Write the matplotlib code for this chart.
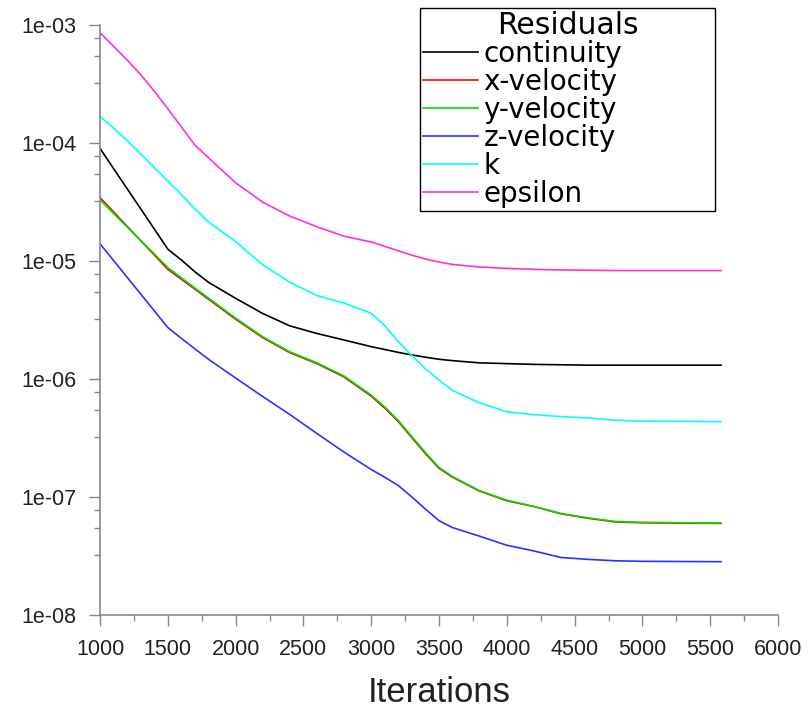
import numpy as np
import matplotlib
matplotlib.use("Agg")
import matplotlib.pyplot as plt
from matplotlib.ticker import FixedLocator, FuncFormatter

iterations = [1000, 1100, 1200, 1300, 1400, 1500, 1600, 1700, 1800, 2000,
              2200, 2400, 2600, 2800, 3000, 3100, 3200, 3300, 3400, 3500,
              3600, 3800, 4000, 4200, 4400, 4600, 4800, 5000, 5300, 5580]

continuity = [9.0e-5, 6.07e-5, 4.1e-5, 2.77e-5, 1.87e-5, 1.26e-5, 1.02e-5, 8.1e-6, 6.6e-6, 4.83e-6,
              3.59e-6, 2.82e-6, 2.43e-6, 2.14e-6, 1.88e-6, 1.78e-6, 1.68e-6, 1.6e-6, 1.53e-6, 1.47e-6,
              1.43e-6, 1.37e-6, 1.35e-6, 1.33e-6, 1.32e-6, 1.31e-6, 1.31e-6, 1.31e-6, 1.31e-6, 1.31e-6]

x_velocity = [3.45e-5, 2.61e-5, 1.97e-5, 1.49e-5, 1.125e-5, 8.5e-6, 7.0e-6, 5.77e-6, 4.74e-6, 3.21e-6,
              2.24e-6, 1.67e-6, 1.35e-6, 1.04e-6, 7.15e-7, 5.66e-7, 4.35e-7, 3.18e-7, 2.33e-7, 1.75e-7,
              1.47e-7, 1.12e-7, 9.3e-8, 8.3e-8, 7.2e-8, 6.6e-8, 6.14e-8, 6.05e-8, 6.0e-8, 5.98e-8]

y_velocity = [3.3e-5, 2.53e-5, 1.94e-5, 1.49e-5, 1.15e-5, 8.8e-6, 7.2e-6, 5.9e-6, 4.85e-6, 3.28e-6,
              2.28e-6, 1.70e-6, 1.37e-6, 1.06e-6, 7.3e-7, 5.8e-7, 4.45e-7, 3.25e-7, 2.38e-7, 1.78e-7,
              1.49e-7, 1.13e-7, 9.4e-8, 8.3e-8, 7.25e-8, 6.65e-8, 6.2e-8, 6.1e-8, 6.05e-8, 6.02e-8]

z_velocity = [1.4e-5, 1.01e-5, 7.28e-6, 5.25e-6, 3.79e-6, 2.73e-6, 2.21e-6, 1.8e-6, 1.47e-6, 1.02e-6,
              7.1e-7, 5.0e-7, 3.45e-7, 2.4e-7, 1.71e-7, 1.47e-7, 1.25e-7, 1.0e-7, 7.9e-8, 6.3e-8,
              5.5e-8, 4.65e-8, 3.9e-8, 3.49e-8, 3.07e-8, 2.96e-8, 2.88e-8, 2.85e-8, 2.84e-8, 2.83e-8]

k = [1.68e-4, 1.34e-4, 1.05e-4, 8.07e-5, 6.19e-5, 4.75e-5, 3.65e-5, 2.77e-5, 2.14e-5, 1.46e-5,
     9.3e-6, 6.6e-6, 5.1e-6, 4.4e-6, 3.6e-6, 2.83e-6, 2.07e-6, 1.58e-6, 1.22e-6, 9.8e-7,
     8.0e-7, 6.27e-7, 5.27e-7, 4.98e-7, 4.8e-7, 4.68e-7, 4.47e-7, 4.4e-7, 4.37e-7, 4.35e-7]

epsilon = [8.6e-4, 6.6e-4, 5.05e-4, 3.8e-4, 2.75e-4, 1.95e-4, 1.37e-4, 9.6e-5, 7.5e-5, 4.6e-5,
           3.15e-5, 2.4e-5, 1.95e-5, 1.62e-5, 1.45e-5, 1.33e-5, 1.22e-5, 1.12e-5, 1.04e-5, 9.8e-6,
           9.35e-6, 8.9e-6, 8.65e-6, 8.5e-6, 8.4e-6, 8.35e-6, 8.3e-6, 8.3e-6, 8.3e-6, 8.3e-6]

labels = ["continuity", "x-velocity", "y-velocity", "z-velocity", "k", "epsilon"]
series = [continuity, x_velocity, y_velocity, z_velocity, k, epsilon]
colors = ["black", "#ff0000", "#00dd00", "#3030ff", "#00ffff", "#ff33cc"]

fig = plt.figure(figsize=(8.09, 7.08), dpi=100)
ax = fig.add_axes([100 / 809, 93 / 708, 678 / 809, 590 / 708])

for vals, lab, col in zip(series, labels, colors):
    ax.plot(iterations, vals, color=col, lw=1.2, label=lab)

ax.set_yscale("log")
ax.set_xlim(1000, 6000)
ax.set_ylim(1e-8, 1e-3)

# major / minor ticks
ax.xaxis.set_major_locator(FixedLocator(np.arange(1000, 6001, 500)))
ax.xaxis.set_minor_locator(FixedLocator(np.arange(1250, 6000, 500)))
ax.yaxis.set_major_locator(FixedLocator([1e-8, 1e-7, 1e-6, 1e-5, 1e-4, 1e-3]))
minor_frac = [0.113, 0.266, 0.492]
ax.yaxis.set_minor_locator(FixedLocator([10.0 ** (n - f) for n in range(-3, -8, -1) for f in minor_frac]))
ax.yaxis.set_major_formatter(FuncFormatter(lambda v, _: f"{v:.0e}"))
ax.yaxis.set_minor_formatter(FuncFormatter(lambda v, _: ""))

for side in ["top", "right"]:
    ax.spines[side].set_visible(False)
for side in ["left", "bottom"]:
    ax.spines[side].set_color("#888888")
    ax.spines[side].set_linewidth(1.2)

ax.tick_params(which="major", direction="out", length=8, width=1, color="#888888",
               labelsize=15.5, pad=9, labelcolor="#222222")
ax.tick_params(which="minor", direction="out", length=4, width=1, color="#888888")
for lbl in ax.get_xticklabels() + ax.get_yticklabels():
    lbl.set_fontfamily("Liberation Sans")

ax.set_xlabel("Iterations", fontsize=25, family="Liberation Sans", labelpad=12, color="#222222")

leg = ax.legend(loc="upper left", bbox_to_anchor=(420 / 809, 1 - 8 / 708, 295 / 809, 0),
                bbox_transform=fig.transFigure, mode="expand", title="Residuals",
                prop={"family": "DejaVu Sans", "size": 20}, title_fontsize=21.5,
                frameon=True, fancybox=False, framealpha=1, edgecolor="black",
                borderpad=0.1, borderaxespad=0, handlelength=1.98, handletextpad=0.2,
                labelspacing=0.0)
leg.get_frame().set_linewidth(1.0)
leg.get_title().set_family("DejaVu Sans")

fig.savefig("out.png", dpi=100)
